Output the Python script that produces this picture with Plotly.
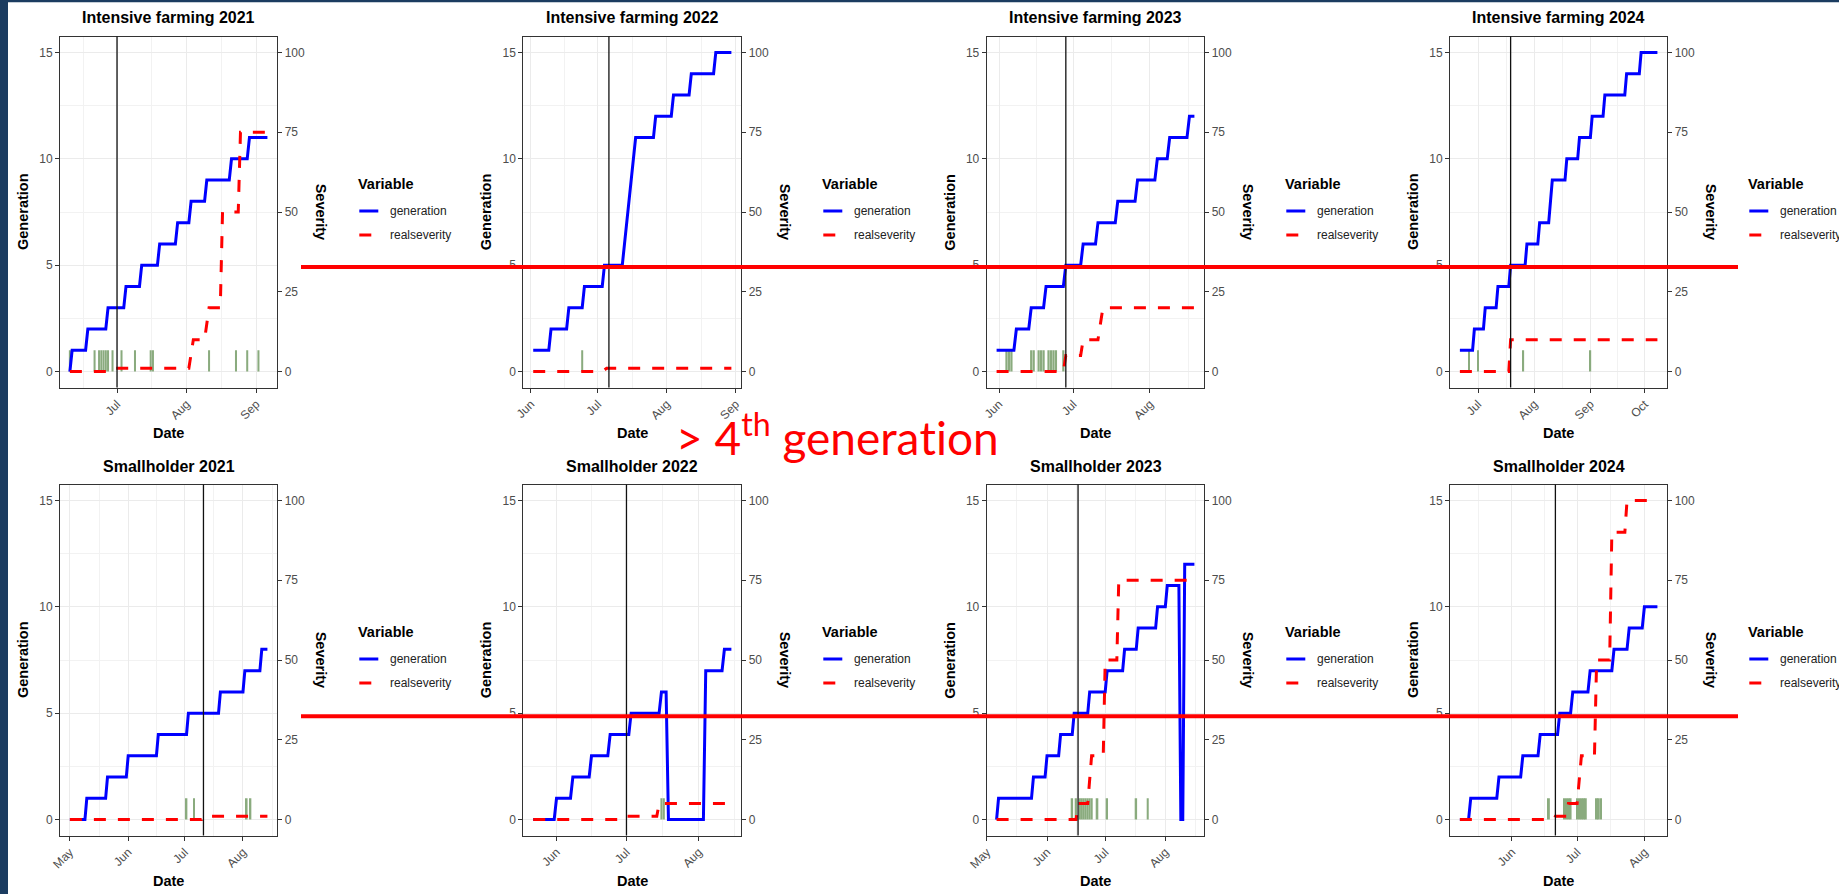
import plotly.graph_objects as go
import pandas as pd

W, H = 1839, 894

# ---------------- data ----------------
panel_titles = ["Intensive farming 2021", "Intensive farming 2022", "Intensive farming 2023", "Intensive farming 2024",
                "Smallholder 2021", "Smallholder 2022", "Smallholder 2023", "Smallholder 2024"]

gen_start = ["2021-06-10", "2022-06-02", "2023-05-31", "2024-06-21",
             "2021-05-01", "2022-05-22", "2023-05-06", "2024-05-08"]
gen_start_value = [0, 1, 1, 1, 0, 0, 0, 0]
gen_step_dates = [
    ["2021-06-11", "2021-06-18", "2021-06-27", "2021-07-05", "2021-07-12", "2021-07-20", "2021-07-28",
     "2021-08-03", "2021-08-10", "2021-08-21", "2021-08-29"],
    ["2022-06-10", "2022-06-18", "2022-06-25", "2022-07-04", "2022-07-13", "2022-07-14", "2022-07-15",
     "2022-07-16", "2022-07-17", "2022-07-18", "2022-07-27", "2022-08-04", "2022-08-12", "2022-08-23"],
    ["2023-06-08", "2023-06-14", "2023-06-20", "2023-06-28", "2023-07-05", "2023-07-11", "2023-07-19",
     "2023-07-27", "2023-08-04", "2023-08-09", "2023-08-17"],
    ["2024-06-29", "2024-07-05", "2024-07-12", "2024-07-19", "2024-07-28", "2024-08-04", "2024-08-10",
     "2024-08-11", "2024-08-19", "2024-08-26", "2024-09-02", "2024-09-09", "2024-09-21", "2024-09-29"],
    ["2021-05-10", "2021-05-21", "2021-06-01", "2021-06-17", "2021-07-03", "2021-07-20", "2021-08-02",
     "2021-08-11"],
    ["2022-06-01", "2022-06-08", "2022-06-16", "2022-06-24", "2022-07-03", "2022-07-16", "2022-07-19",
     "2022-08-04", "2022-08-12"],
    ["2023-05-07", "2023-05-25", "2023-06-01", "2023-06-08", "2023-06-15", "2023-06-23", "2023-07-02",
     "2023-07-11", "2023-07-18", "2023-07-28", "2023-08-02", "2023-08-09", "2023-08-11"],
    ["2024-05-13", "2024-05-26", "2024-06-06", "2024-06-14", "2024-06-23", "2024-06-29", "2024-07-07",
     "2024-07-18", "2024-07-25", "2024-08-01"],
]
gen_step_values = [
    [1, 2, 3, 4, 5, 6, 7, 8, 9, 10, 11],
    [2, 3, 4, 5, 6, 7, 8, 9, 10, 11, 12, 13, 14, 15],
    [2, 3, 4, 5, 6, 7, 8, 9, 10, 11, 12],
    [2, 3, 4, 5, 6, 7, 8, 9, 10, 11, 12, 13, 14, 15],
    [1, 2, 3, 4, 5, 6, 7, 8],
    [1, 2, 3, 4, 5, 6, 0, 7, 8],
    [1, 2, 3, 4, 5, 6, 7, 8, 9, 10, 11, 0, 12],
    [1, 2, 3, 4, 5, 6, 7, 8, 9, 10],
]
gen_end = ["2021-09-06", "2022-08-30", "2023-08-19", "2024-10-08",
           "2021-08-14", "2022-08-15", "2023-08-16", "2024-08-07"]

sev_dates = [
    ["2021-06-10", "2021-06-29", "2021-06-30", "2021-08-02", "2021-08-04", "2021-08-09", "2021-08-11",
     "2021-08-16", "2021-08-17", "2021-08-24", "2021-08-25", "2021-09-06"],
    ["2022-06-02", "2022-07-03", "2022-07-05", "2022-08-30"],
    ["2023-05-31", "2023-06-27", "2023-06-28", "2023-07-04", "2023-07-05", "2023-07-11", "2023-07-13",
     "2023-08-19"],
    ["2024-06-21", "2024-07-18", "2024-07-19", "2024-10-08"],
    ["2021-05-01", "2021-07-10", "2021-07-11", "2021-08-14"],
    ["2022-05-22", "2022-06-30", "2022-07-01", "2022-07-14", "2022-07-15", "2022-08-15"],
    ["2023-05-06", "2023-06-16", "2023-06-17", "2023-06-22", "2023-06-24", "2023-06-30", "2023-07-01",
     "2023-07-07", "2023-07-08", "2023-08-16"],
    ["2024-05-08", "2024-06-20", "2024-06-21", "2024-06-26", "2024-06-27", "2024-07-01", "2024-07-03",
     "2024-07-09", "2024-07-10", "2024-07-16", "2024-07-17", "2024-07-23", "2024-07-24", "2024-08-07"],
]
sev_values = [
    [0, 0, 1, 1, 10, 10, 20, 20, 50, 50, 75, 75],
    [0, 0, 1, 1],
    [0, 0, 5, 5, 10, 10, 20, 20],
    [0, 0, 10, 10],
    [0, 0, 1, 1],
    [0, 0, 1, 1, 5, 5],
    [0, 0, 5, 5, 20, 20, 50, 50, 75, 75],
    [0, 0, 1, 1, 5, 5, 20, 20, 50, 50, 90, 90, 100, 100],
]

event_dates = [
    ["2021-06-10", "2021-06-21", "2021-06-23", "2021-06-24", "2021-06-25", "2021-06-26", "2021-06-27",
     "2021-06-29", "2021-07-03", "2021-07-09", "2021-07-16", "2021-07-17", "2021-08-11", "2021-08-23",
     "2021-08-28", "2021-09-02"],
    ["2022-06-24"],
    ["2023-06-04", "2023-06-05", "2023-06-06", "2023-06-14", "2023-06-15", "2023-06-17", "2023-06-18",
     "2023-06-19", "2023-06-21", "2023-06-22", "2023-06-23", "2023-06-24", "2023-06-27"],
    ["2024-06-26", "2024-07-01", "2024-07-26", "2024-09-01"],
    ["2021-07-02", "2021-07-06", "2021-08-03", "2021-08-05"],
    ["2022-07-16", "2022-07-17"],
    ["2023-06-14", "2023-06-16", "2023-06-18", "2023-06-19", "2023-06-20", "2023-06-21", "2023-06-22",
     "2023-06-23", "2023-06-24", "2023-06-27", "2023-07-02", "2023-07-17", "2023-07-23"],
    ["2024-06-18", "2024-06-25", "2024-06-26", "2024-06-27", "2024-06-28", "2024-07-01", "2024-07-02",
     "2024-07-03", "2024-07-04", "2024-07-05", "2024-07-10", "2024-07-11", "2024-07-12"],
]
event_height = 1

marker_dates = ["2021-07-01", "2022-07-06", "2023-06-28", "2024-07-19",
                "2021-07-11", "2022-07-01", "2023-06-17", "2024-06-21"]

gen_ticks = [0, 5, 10, 15]
gen_minor = [2.5, 7.5, 12.5]
sev_ticks = [0, 25, 50, 75, 100]
gen_max, sev_max = 15, 100
threshold_text = "> 4<sup>th</sup> genera\u200ct\u200cion"
legend_title = "Variable"
legend_labels = ["generation", "realseverity"]

# ---------------- layout geometry (pixels) ----------------
COL_L = [60.0, 523.3, 986.7, 1450.0]
COL_R = [277.3, 741.3, 1204.3, 1667.3]
ROW_T = [36.5, 484.5]
ROW_B = [387.5, 835.5]
TITLE_Y = [17.5, 466.0]
DATE_Y = [433.0, 881.0]
RED_Y = [267.0, 716.3]
RED_X = [301.0, 1738.0]

FONT = "Liberation Sans, Arial, sans-serif"
BLUE, RED, GREEN = "#0000ff", "#ff0000", "#8aab7e"
NAVY = "#1b3c60"
GRID = "#ebebeb"
AXC = "#333333"
TXT = "#4d4d4d"


def px(x):
    return x / W


def py(y):
    return 1 - y / H


def axname(base, n):
    return base if n == 1 else f"{base}{n}"


def gen_series(k):
    xs = [pd.Timestamp(gen_start[k])]
    ys = [gen_start_value[k]]
    prev = gen_start_value[k]
    for d, v in zip(gen_step_dates[k], gen_step_values[k]):
        t = pd.Timestamp(d)
        xs.append(t - pd.Timedelta(days=1))
        ys.append(prev)
        xs.append(t)
        ys.append(v)
        prev = v
    xs.append(pd.Timestamp(gen_end[k]))
    ys.append(prev)
    return xs, ys


fig = go.Figure()
shapes = []
annotations = []
layout = {}

# page frame
shapes.append(dict(type="rect", xref="paper", yref="paper", x0=0, x1=px(8), y0=0, y1=1,
                   fillcolor=NAVY, line_width=0, layer="below"))
shapes.append(dict(type="rect", xref="paper", yref="paper", x0=0, x1=1, y0=py(2.2), y1=1,
                   fillcolor=NAVY, line_width=0, layer="below"))

for k in range(8):
    r, c = divmod(k, 4)
    xn = k + 1
    yp = 2 * k + 1
    ys_ = 2 * k + 2
    xref = axname("x", xn)
    ypref = axname("y", yp)
    ysref = axname("y", ys_)
    L, R, T, B = COL_L[c], COL_R[c], ROW_T[r], ROW_B[r]

    gx, gy = gen_series(k)
    sx = [pd.Timestamp(d) for d in sev_dates[k]]
    ex = [pd.Timestamp(d) for d in event_dates[k]]

    # x range: data extent with 5% expansion (ggplot default)
    allx = gx + sx
    x0, x1 = min(allx), max(allx)
    span = x1 - x0
    xr = [x0 - span * 0.05, x1 + span * 0.05]

    # minor grid: midpoints between month starts
    months = pd.date_range(xr[0].to_period("M").to_timestamp() - pd.DateOffset(months=1),
                           xr[1].to_period("M").to_timestamp() + pd.DateOffset(months=2), freq="MS")
    mids = [months[i] + (months[i + 1] - months[i]) / 2 for i in range(len(months) - 1)]

    fig.add_trace(go.Bar(x=ex, y=[event_height] * len(ex), width=0.9 * 86400000,
                         marker=dict(color=GREEN, line_width=0), xaxis=xref, yaxis=ypref,
                         showlegend=False, hoverinfo="skip"))
    fig.add_trace(go.Scatter(x=gx, y=gy, mode="lines", line=dict(color=BLUE, width=3),
                             xaxis=xref, yaxis=ypref, showlegend=False, hoverinfo="skip"))
    fig.add_trace(go.Scatter(x=sx, y=sev_values[k], mode="lines",
                             line=dict(color=RED, width=3, dash="12px,12px"),
                             xaxis=xref, yaxis=ysref, showlegend=False, hoverinfo="skip"))

    layout[axname("xaxis", xn)] = dict(
        domain=[px(L), px(R)], anchor=ypref, type="date", range=xr,
        dtick="M1", tick0="2000-01-01", tickformat="%b", tickangle=-45,
        ticks="outside", ticklen=4, tickwidth=1, tickcolor=AXC,
        tickfont=dict(family=FONT, size=12, color=TXT),
        showgrid=True, gridcolor=GRID, gridwidth=1.1,
        minor=dict(tickmode="array", tickvals=mids, showgrid=True, gridcolor="#f2f2f2", gridwidth=0.7, ticks=""),
        showline=True, linecolor=AXC, linewidth=1, mirror=True, zeroline=False, automargin=False,
        fixedrange=True)
    layout[axname("yaxis", yp)] = dict(
        domain=[py(B), py(T)], anchor=xref, range=[-0.05 * gen_max, 1.05 * gen_max],
        tickmode="array", tickvals=gen_ticks, ticks="outside", ticklen=4, tickwidth=1, tickcolor=AXC,
        tickfont=dict(family=FONT, size=12, color=TXT),
        showgrid=True, gridcolor=GRID, gridwidth=1.1,
        minor=dict(tickmode="array", tickvals=gen_minor, showgrid=True, gridcolor="#f2f2f2", gridwidth=0.7, ticks=""),
        showline=True, linecolor=AXC, linewidth=1, mirror=True, zeroline=False, automargin=False,
        fixedrange=True)
    layout[axname("yaxis", ys_)] = dict(
        overlaying=ypref, anchor=xref, side="right", range=[-0.05 * sev_max, 1.05 * sev_max],
        tickmode="array", tickvals=sev_ticks, ticks="outside", ticklen=4, tickwidth=1, tickcolor=AXC,
        tickfont=dict(family=FONT, size=12, color=TXT),
        showgrid=False, showline=False, zeroline=False, automargin=False, fixedrange=True)

    # vertical marker line
    shapes.append(dict(type="line", xref=xref, yref=f"{ypref} domain", x0=marker_dates[k], x1=marker_dates[k],
                       y0=0, y1=1, line=dict(color="#111111", width=1.3), layer="above"))

    cx = (L + R) / 2
    cy = (T + B) / 2
    annotations += [
        dict(text=panel_titles[k], x=px(cx), y=py(TITLE_Y[r]), xref="paper", yref="paper",
             showarrow=False, xanchor="center", yanchor="middle",
             font=dict(family=FONT, size=16, color="#000000", weight="bold")),
        dict(text="Date", x=px(cx), y=py(DATE_Y[r]), xref="paper", yref="paper",
             showarrow=False, xanchor="center", yanchor="middle",
             font=dict(family=FONT, size=14.5, color="#000000", weight="bold")),
        dict(text="Generation", x=px(L - 37), y=py(cy), xref="paper", yref="paper", textangle=-90,
             showarrow=False, xanchor="center", yanchor="middle",
             font=dict(family=FONT, size=14.5, color="#000000", weight="bold")),
        dict(text="Severity", x=px(R + 44), y=py(cy), xref="paper", yref="paper", textangle=90,
             showarrow=False, xanchor="center", yanchor="middle",
             font=dict(family=FONT, size=14.5, color="#000000", weight="bold")),
        dict(text=legend_title, x=px(R + 79), y=py(T + 147), xref="paper", yref="paper",
             showarrow=False, xanchor="left", yanchor="middle",
             font=dict(family=FONT, size=14.5, color="#000000", weight="bold")),
        dict(text=legend_labels[0], x=px(R + 111), y=py(T + 174.5), xref="paper", yref="paper",
             showarrow=False, xanchor="left", yanchor="middle",
             font=dict(family=FONT, size=12, color="#222222")),
        dict(text=legend_labels[1], x=px(R + 111), y=py(T + 198.5), xref="paper", yref="paper",
             showarrow=False, xanchor="left", yanchor="middle",
             font=dict(family=FONT, size=12, color="#222222")),
    ]
    shapes += [
        dict(type="line", xref="paper", yref="paper", x0=px(R + 82), x1=px(R + 101),
             y0=py(T + 174.5), y1=py(T + 174.5), line=dict(color=BLUE, width=3)),
        dict(type="line", xref="paper", yref="paper", x0=px(R + 82), x1=px(R + 94),
             y0=py(T + 198.5), y1=py(T + 198.5), line=dict(color=RED, width=3)),
    ]

# hand-drawn threshold lines and label
for r in range(2):
    shapes.append(dict(type="line", xref="paper", yref="paper", x0=px(RED_X[0]), x1=px(RED_X[1]),
                       y0=py(RED_Y[r]), y1=py(RED_Y[r]), line=dict(color=RED, width=4), layer="above"))
annotations.append(dict(text=threshold_text, x=px(837), y=py(434), xref="paper", yref="paper",
                        showarrow=False, xanchor="center", yanchor="middle",
                        font=dict(family="Lato, Carlito, sans-serif", size=46, color=RED)))

fig.update_layout(
    width=W, height=H, margin=dict(l=0, r=0, t=0, b=0),
    paper_bgcolor="#ffffff", plot_bgcolor="#ffffff",
    showlegend=False, shapes=shapes, annotations=annotations, **layout)

fig.write_html("out.html", config={"responsive": False, "displayModeBar": False},
               post_script="document.body.style.margin='0px';document.body.style.overflow='hidden';")
